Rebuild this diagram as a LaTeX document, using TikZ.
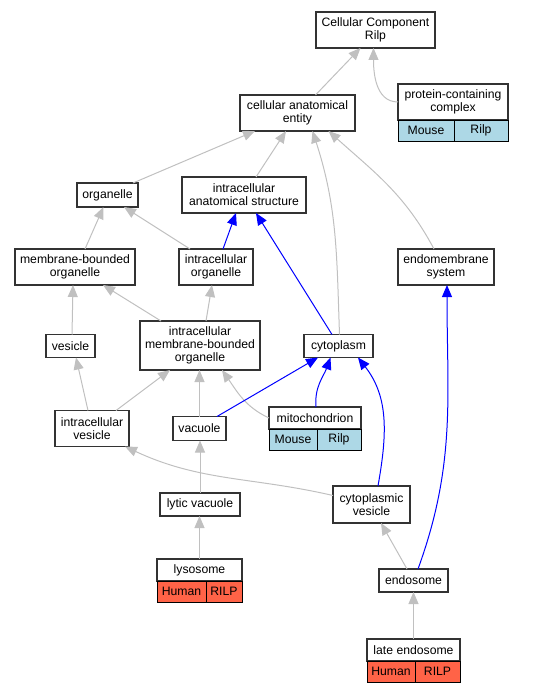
\documentclass[tikz,border=0pt]{standalone}
\usepackage{fontspec}
\setmainfont{Liberation Sans}
\usetikzlibrary{arrows.meta,positioning}
\definecolor{isagray}{RGB}{192,192,192}
\definecolor{partblue}{RGB}{0,0,255}
\definecolor{mouseblue}{RGB}{173,216,230}
\definecolor{humanred}{RGB}{255,99,71}
\definecolor{boxline}{RGB}{51,51,51}
\tikzset{
  term/.style={rectangle,draw=boxline,line width=1.4pt,fill=white,align=center,
               inner sep=1pt,outer sep=0pt,font=\fontsize{12.2}{13}\selectfont},
  cell/.style={rectangle,draw=black,line width=1pt,inner sep=1pt,outer sep=0pt,
               minimum height=21pt,font=\fontsize{12.2}{13}\selectfont},
  isa/.style={-{Triangle[length=12pt,width=10pt]},line width=1pt,isagray},
  partof/.style={-{Triangle[length=12pt,width=10pt]},line width=1pt,partblue},
}

\begin{document}
\begin{tikzpicture}[x=1pt,y=-1pt]
  \useasboundingbox (0,0) rectangle (540,693);
  % terms
  \node[term,minimum width=119pt,minimum height=36pt] (ccr) at (375.5,30) {Cellular Component\\Rilp};
  \node[term,minimum width=115pt,minimum height=36pt] (cae) at (297.5,113) {cellular anatomical\\entity};
  \node[term,minimum width=110pt,minimum height=36pt] (pcc) at (453,102) {protein-containing\\complex};
  \node[cell,fill=mouseblue,minimum width=56pt,below right=0pt and 0pt of pcc.south west] (pccM) {Mouse};
  \node[cell,fill=mouseblue,minimum width=54pt,right=0pt of pccM] (pccR) {Rilp};
  \node[term,minimum width=61pt,minimum height=24pt] (org) at (107.5,195) {organelle};
  \node[term,minimum width=124pt,minimum height=36pt] (ias) at (244,195) {intracellular\\anatomical structure};
  \node[term,minimum width=120pt,minimum height=36pt] (mbo) at (75,267) {membrane-bounded\\organelle};
  \node[term,minimum width=74pt,minimum height=36pt] (io) at (216,267) {intracellular\\organelle};
  \node[term,minimum width=96pt,minimum height=36pt] (ems) at (446,267) {endomembrane\\system};
  \node[term,minimum width=49pt,minimum height=23pt] (ves) at (70.5,346) {vesicle};
  \node[term,minimum width=120pt,minimum height=49pt] (imbo) at (200,345.5) {intracellular\\membrane-bounded\\organelle};
  \node[term,minimum width=69pt,minimum height=23pt] (cyto) at (338.5,346) {cytoplasm};
  \node[term,minimum width=74pt,minimum height=36pt] (iv) at (92,428.5) {intracellular\\vesicle};
  \node[term,minimum width=53pt,minimum height=24pt] (vac) at (199.5,428.5) {vacuole};
  \node[term,minimum width=92pt,minimum height=22pt] (mito) at (315,418) {mitochondrion};
  \node[cell,fill=mouseblue,minimum width=48pt,below right=0pt and 0pt of mito.south west] (mitoM) {Mouse};
  \node[cell,fill=mouseblue,minimum width=44pt,right=0pt of mitoM] (mitoR) {Rilp};
  \node[term,minimum width=80pt,minimum height=23pt] (lv) at (200,504.5) {lytic vacuole};
  \node[term,minimum width=77pt,minimum height=37pt] (cv) at (371.5,504.5) {cytoplasmic\\vesicle};
  \node[term,minimum width=85pt,minimum height=22pt] (lys) at (199.5,570) {lysosome};
  \node[cell,fill=humanred,minimum width=49pt,below right=0pt and 0pt of lys.south west] (lysH) {Human};
  \node[cell,fill=humanred,minimum width=36pt,right=0pt of lysH] (lysR) {RILP};
  \node[term,minimum width=69pt,minimum height=23pt] (endo) at (413.5,580.5) {endosome};
  \node[term,minimum width=93pt,minimum height=22pt] (le) at (413.5,650) {late endosome};
  \node[cell,fill=humanred,minimum width=48pt,below right=0pt and 0pt of le.south west] (leH) {Human};
  \node[cell,fill=humanred,minimum width=45pt,right=0pt of leH] (leR) {RILP};
  % is_a edges
  \draw[isa] ([xshift=18]cae.north) -- ([xshift=-15]ccr.south);
  \draw[isa] (pcc.west) to[out=180,in=-90] ([xshift=-2]ccr.south);
  \draw[isa] ([xshift=25.5]org.north) -- ([xshift=-42.5]cae.south);
  \draw[isa] ([xshift=12]ias.north) -- ([xshift=-11.5]cae.south);
  \draw[isa] ([xshift=1]cyto.north) to[out=92,in=-72] ([xshift=15]cae.south);
  \draw[isa] ([xshift=-12]ems.north) to[out=118,in=-42] ([xshift=31]cae.south);
  \draw[isa] ([xshift=10]mbo.north) -- ([xshift=-4]org.south);
  \draw[isa] ([xshift=-26]io.north) -- ([xshift=16.5]org.south);
  \draw[isa] ([xshift=-39]imbo.north) -- ([xshift=28]mbo.south);
  \draw[isa] ([xshift=6]imbo.north) -- ([xshift=-4]io.south);
  \draw[isa] ([xshift=1.5]ves.north) -- ([xshift=-2]mbo.south);
  \draw[isa] ([xshift=-4]iv.north) -- ([xshift=5.5]ves.south);
  \draw[isa] ([xshift=24]iv.north) -- ([xshift=-30]imbo.south);
  \draw[isa] (vac.north) -- (vac.north |- imbo.south);
  \draw[isa] (mito.west) to[out=155,in=-55] ([xshift=22]imbo.south);
  \draw[isa] ([yshift=9]cv.west) to[out=167,in=-25] ([xshift=33]iv.south);
  \draw[isa] (lv.north) -- (lv.north |- vac.south);
  \draw[isa] (lys.north) -- (lys.north |- lv.south);
  \draw[isa] ([xshift=-6.5]endo.north) -- ([xshift=9.5]cv.south);
  \draw[isa] (le.north) -- (endo.south);
  % part_of edges
  \draw[partof] ([xshift=7]io.north) -- ([xshift=-8]ias.south);
  \draw[partof] ([xshift=-6.5]cyto.north) -- ([xshift=12]ias.south);
  \draw[partof] ([xshift=17.5]vac.north) -- ([xshift=-20.5]cyto.south);
  \draw[partof] ([xshift=1]mito.north) to[out=95,in=-110] ([xshift=-8]cyto.south);
  \draw[partof] ([xshift=6.5]cv.north) to[out=80,in=-52] ([xshift=19.5]cyto.south);
  \draw[partof] ([xshift=4.5]endo.north) to[out=70,in=-90] ([xshift=1]ems.south);
\end{tikzpicture}
\end{document}
